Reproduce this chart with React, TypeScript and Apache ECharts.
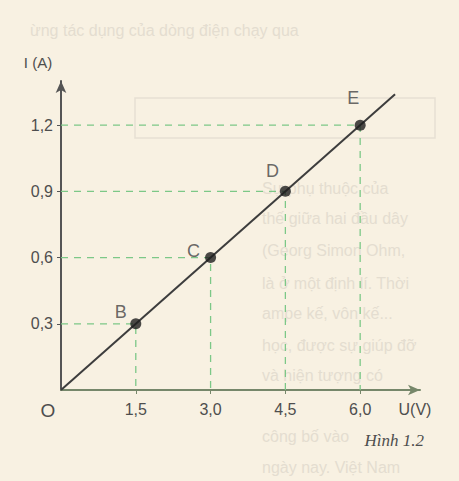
import React, { useEffect, useRef } from "react";
import * as echarts from "echarts";

const pointNames = ["B", "C", "D", "E"];
const voltage = [1.5, 3.0, 4.5, 6.0];
const current = [0.3, 0.6, 0.9, 1.2];
const lineStart = [0, 0];
const lineEnd = [6.7, 1.34];
const xTicks = [1.5, 3.0, 4.5, 6.0];
const yTicks = [0.3, 0.6, 0.9, 1.2];
const labelOffsets = [
  [-15, -12],
  [-17, -7],
  [-13, -20],
  [-7, -27],
];
const bleedLines = [
  { t: "ừng tác dụng của dòng điện chạy qua", x: 30, y: 30 },
  { t: "Sự phụ thuộc của", x: 262, y: 188 },
  { t: "thế giữa hai đầu dây", x: 262, y: 218 },
  { t: "(Georg Simon Ohm,", x: 262, y: 250 },
  { t: "là ở một định lí. Thời", x: 262, y: 283 },
  { t: "ampe kế, vôn kế...", x: 262, y: 313 },
  { t: "học, được sự giúp đỡ", x: 262, y: 345 },
  { t: "và hiện tượng có", x: 262, y: 375 },
  { t: "công bố vào", x: 262, y: 436 },
  { t: "ngày nay. Việt Nam", x: 262, y: 467 },
];

const fmt = (v: number) => v.toFixed(1).replace(".", ",");

export default function App() {
  const ref = useRef<HTMLDivElement>(null);
  useEffect(() => {
    if (!ref.current) return;
    const chart = echarts.init(ref.current, null, { renderer: "svg" });
    const guideSeries = voltage.map((u, i) => ({
      type: "line" as const,
      data: [
        [0, current[i]],
        [u, current[i]],
        [u, 0],
      ],
      symbol: "none",
      silent: true,
      z: 1,
      lineStyle: { color: "#7cc887", width: 1.3, type: [7, 6] as any },
    }));
    chart.setOption({
      animation: false,
      backgroundColor: "#f8f1e2",
      grid: { left: 61, right: 39, top: 81, bottom: 91 },
      xAxis: {
        type: "value",
        min: 0,
        max: 7.2,
        interval: 1.5,
        splitLine: { show: false },
        axisLine: {
          lineStyle: { color: "#76876a", width: 2 },
          symbol: ["none", "arrow"],
          symbolSize: [8, 12],
        },
        axisTick: {
          show: true,
          length: 4,
          customValues: xTicks,
          lineStyle: { color: "#76876a" },
        },
        axisLabel: {
          customValues: xTicks,
          formatter: (v: number) => fmt(v),
          fontFamily: "Liberation Sans, Arial, sans-serif",
          fontSize: 16,
          color: "#4e4e4e",
          margin: 11,
        },
      },
      yAxis: {
        type: "value",
        min: 0,
        max: 1.4,
        interval: 0.3,
        splitLine: { show: false },
        axisLine: {
          lineStyle: { color: "#555555", width: 2 },
          symbol: ["none", "arrow"],
          symbolSize: [8, 12],
        },
        axisTick: {
          show: true,
          length: 4,
          customValues: yTicks,
          lineStyle: { color: "#555555" },
        },
        axisLabel: {
          customValues: yTicks,
          formatter: (v: number) => fmt(v),
          fontFamily: "Liberation Sans, Arial, sans-serif",
          fontSize: 16,
          color: "#4e4e4e",
          margin: 8,
        },
      },
      graphic: [
        ...bleedLines.map((b) => ({
          type: "text",
          x: b.x,
          y: b.y,
          silent: true,
          z: -10,
          style: {
            text: b.t,
            fill: "#e4ddd0",
            font: "16px 'Liberation Sans', Arial, sans-serif",
            textVerticalAlign: "middle",
          },
        })),
        {
          type: "rect",
          z: -10,
          shape: { x: 135, y: 98, width: 300, height: 40 },
          style: { fill: "none", stroke: "#e6e0d3", lineWidth: 1.5 },
        },
        {
          type: "text",
          x: 38,
          y: 62,
          style: {
            text: "I (A)",
            fill: "#4e4e4e",
            font: "15px 'Liberation Sans', Arial, sans-serif",
            textAlign: "center",
            textVerticalAlign: "middle",
          },
        },
        {
          type: "text",
          x: 48,
          y: 410,
          style: {
            text: "O",
            fill: "#4e4e4e",
            font: "19px 'Liberation Sans', Arial, sans-serif",
            textAlign: "center",
            textVerticalAlign: "middle",
          },
        },
        {
          type: "text",
          x: 415,
          y: 409,
          style: {
            text: "U(V)",
            fill: "#4e4e4e",
            font: "16px 'Liberation Sans', Arial, sans-serif",
            textAlign: "center",
            textVerticalAlign: "middle",
          },
        },
        {
          type: "text",
          x: 424,
          y: 440,
          style: {
            text: "Hình 1.2",
            fill: "#4e4e4e",
            font: "italic 17px 'Liberation Serif', 'Times New Roman', serif",
            textAlign: "right",
            textVerticalAlign: "middle",
          },
        },
      ],
      series: [
        ...guideSeries,
        {
          type: "line",
          data: [lineStart, lineEnd],
          symbol: "none",
          silent: true,
          z: 3,
          lineStyle: { color: "#3d3d3d", width: 2 },
        },
        {
          type: "scatter",
          z: 4,
          symbolSize: 11,
          itemStyle: { color: "#1e1e1e" },
          data: voltage.map((u, i) => ({
            name: pointNames[i],
            value: [u, current[i]],
            label: {
              show: true,
              formatter: "{b}",
              position: "inside",
              offset: labelOffsets[i],
              fontSize: 18,
              fontFamily: "Liberation Sans, Arial, sans-serif",
              color: "#444444",
            },
          })),
        },
      ],
    });
    return () => chart.dispose();
  }, []);
  return (
    <div
      ref={ref}
      style={{ position: "fixed", left: 0, top: 0, width: 459, height: 481 }}
    />
  );
}
